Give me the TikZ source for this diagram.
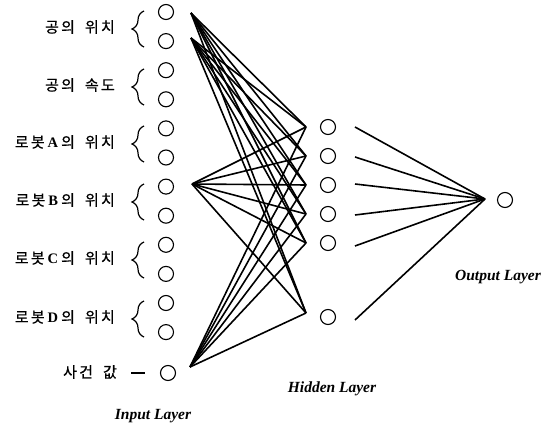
\documentclass[tikz,border=0pt]{standalone}
\usepackage{fontspec}
\setmainfont{Liberation Serif}
\newfontfamily\kor[LetterSpace=15,FakeBold=0.6]{Noto Sans CJK KR}
\usetikzlibrary{decorations.pathreplacing}

\begin{document}
\begin{tikzpicture}[x=1pt,y=-1pt,
  neuron/.style={circle,draw,line width=1.1pt,minimum size=15pt,inner sep=0pt},
  link/.style={line width=1.6pt},
  lbl/.style={anchor=east,inner sep=0pt,font=\kor\fontsize{15}{16}\selectfont},
  layer/.style={inner sep=0pt,font=\bfseries\itshape\fontsize{15.5}{16}\selectfont},
  grp/.style={decorate,decoration={brace,amplitude=12pt},line width=1.2pt}]
\useasboundingbox (0,0) rectangle (548,430);

% input neurons
\foreach \i in {1,...,12}
  \node[neuron] (in\i) at (166,{12+29.1*(\i-1)}) {};
\node[neuron] (in13) at (168,373) {};

% hidden neurons
\foreach \i/\y in {1/127,2/156,3/185,4/214,5/243,6/317}
  \node[neuron] (hid\i) at (328,\y) {};

% output neuron
\node[neuron] (out) at (505,200) {};

% group labels and braces
\newcommand{\grp}[3]{%
  \draw[grp] (144,{#1+20}) -- (144,{#1-16});
  \node[lbl] (#3) at (115,#1) {#2};}
\newcommand{\lt}[1]{\hspace{3pt}{\rmfamily\bfseries\fontsize{14.5}{15}\selectfont #1}\hspace{3pt}}
\grp{27}{공의\hspace{10pt}위치}{lblA}
\grp{85}{공의\hspace{10pt}속도}{lblB}
\grp{142}{로봇\lt{A}의\hspace{10pt}위치}{lblC}
\grp{200}{로봇\lt{B}의\hspace{10pt}위치}{lblD}
\grp{258}{로봇\lt{C}의\hspace{10pt}위치}{lblE}
\grp{317}{로봇\lt{D}의\hspace{10pt}위치}{lblF}
\node[lbl] (lblG) at (117,372) {사건\hspace{10pt}값};
\coordinate (dashL) at (131,373);
\coordinate (dashR) at (145,373);
\draw[line width=1.1pt] (dashL) -- (dashR);

% fan points of the input side
\coordinate (fa) at (191,13);
\coordinate (fb) at (191,38);
\coordinate (fc) at (192,184);
\coordinate (fd) at (190,367);

% hidden layer entry and exit points
\foreach \i/\y in {1/127,2/156,3/185,4/214,5/243,6/313}
  \coordinate (hl\i) at (306,\y);
\foreach \i/\y in {1/127,2/157,3/184,4/215,5/246,6/320}
  \coordinate (hr\i) at (355,\y);
\coordinate (ofan) at (485,199);

% connections input -> hidden
\foreach \f in {fa,fb,fc,fd}
  \foreach \i in {1,...,6}
    \draw[link] (\f) -- (hl\i);

% connections hidden -> output
\foreach \i in {1,...,6}
  \draw[link] (hr\i) -- (ofan);

% layer titles
\node[layer] (tin) at (153,416) {Input Layer};
\node[layer] (thid) at (332,389) {Hidden Layer};
\node[layer] (tout) at (498,277) {Output Layer};
\end{tikzpicture}
\end{document}
